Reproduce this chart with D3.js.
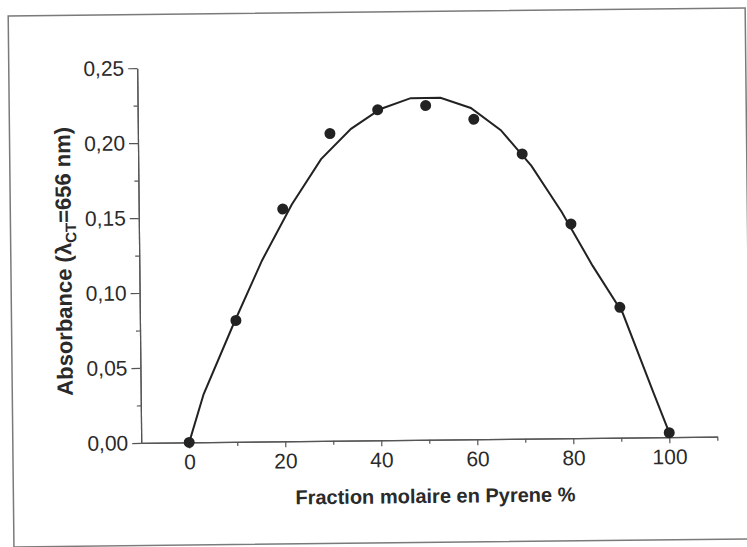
<!DOCTYPE html>
<html>
<head>
<meta charset="utf-8">
<script src="https://cdnjs.cloudflare.com/ajax/libs/d3/7.8.5/d3.min.js"></script>
<style>
    body { margin: 0; background: #fff; }
    .axis path, .axis line { stroke: #555; stroke-width: 1.2; }
    .axis text { font-family: "Liberation Sans", Arial, sans-serif; font-size: 21px; fill: #2a2a2a; }
    .title { font-family: "Liberation Sans", Arial, sans-serif; font-weight: bold; fill: #2a2a2a; }
</style>
</head>
<body>
<div id="chart"></div>
<script>
// measured points (molar fraction of pyrene %, absorbance)
var pyreneFraction = [0, 10, 20, 30, 40, 50, 60, 70, 80, 90, 100];
var absorbance = [0, 0.081, 0.155, 0.205, 0.2205, 0.223, 0.2135, 0.190, 0.143, 0.087, 0.003];

// fitted curve
var fitX = [0, 3.1, 9.4, 15.6, 21.9, 28.1, 34.4, 40.6, 46.9, 53.1, 59.4, 65.6, 71.9, 78.1, 84.4, 90.6, 96.9, 100];
var fitY = [0, 0.032, 0.078, 0.121, 0.158, 0.188, 0.208, 0.221, 0.228, 0.228, 0.221, 0.206, 0.182, 0.151, 0.115, 0.083, 0.029, 0.003];

// tick values
var xMajor = [0, 20, 40, 60, 80, 100];
var xMinor = [10, 30, 50, 70, 90, 110];
var yMajor = [0, 0.05, 0.10, 0.15, 0.20, 0.25];
var yMinor = [0.025, 0.075, 0.125, 0.175, 0.225];

var svgWidth = 747;
var svgHeight = 547;

var svg = d3.select("#chart")
    .append("svg")
    .attr("width", svgWidth)
    .attr("height", svgHeight);

// the scanned figure is slightly tilted
var page = svg.append("g")
    .attr("transform", "rotate(-0.62, 374, 273)");

// frame around the figure
page.append("rect")
    .attr("x", 11)
    .attr("y", 12)
    .attr("width", 737)
    .attr("height", 531)
    .attr("fill", "none")
    .attr("stroke", "#7a7a7a")
    .attr("stroke-width", 1.5);

var xScale = d3.scaleLinear()
    .domain([-10, 110])
    .range([139.4, 715.5]);

var yScale = d3.scaleLinear()
    .domain([0, 0.25])
    .range([440.4, 65.6]);

var fmt = function(d) { return d3.format(".2f")(d).replace(".", ","); };

// minor ticks first
page.append("g")
    .attr("class", "axis")
    .attr("transform", `translate(0, ${yScale(0)})`)
    .call(d3.axisBottom(xScale).tickValues(xMinor).tickSize(4).tickSizeOuter(0).tickFormat(""));

page.append("g")
    .attr("class", "axis")
    .attr("transform", `translate(${xScale(-10)}, 0)`)
    .call(d3.axisLeft(yScale).tickValues(yMinor).tickSize(4).tickSizeOuter(0).tickFormat(""));

// major axes
var xAxis = page.append("g")
    .attr("class", "axis")
    .attr("transform", `translate(0, ${yScale(0)})`)
    .call(d3.axisBottom(xScale).tickValues(xMajor).tickSize(6).tickPadding(6).tickSizeOuter(0));

var yAxis = page.append("g")
    .attr("class", "axis")
    .attr("transform", `translate(${xScale(-10)}, 0)`)
    .call(d3.axisLeft(yScale).tickValues(yMajor).tickSize(9).tickPadding(4).tickSizeOuter(0).tickFormat(fmt));

// fitted line
var fitData = fitX.map(function(x, i) { return { x: x, y: fitY[i] }; });

var line = d3.line()
    .x(d => xScale(d.x))
    .y(d => yScale(d.y));

page.append("path")
    .datum(fitData)
    .attr("d", line)
    .attr("fill", "none")
    .attr("stroke", "#222")
    .attr("stroke-width", 2);

// measured points
page.selectAll("circle.pt")
    .data(pyreneFraction)
    .enter()
    .append("circle")
    .attr("class", "pt")
    .attr("cx", d => xScale(d))
    .attr("cy", (d, i) => yScale(absorbance[i]))
    .attr("r", 5.5)
    .attr("fill", "#222");

// axis titles
page.append("text")
    .attr("class", "title")
    .attr("x", 433)
    .attr("y", 503.5)
    .attr("text-anchor", "middle")
    .style("font-size", "20px")
    .text("Fraction molaire en Pyrene %");

var yTitle = page.append("text")
    .attr("class", "title")
    .attr("transform", "translate(71.5, 258) rotate(-90)")
    .attr("text-anchor", "middle")
    .style("font-size", "22px");

yTitle.append("tspan").text("Absorbance (\u03bb");
yTitle.append("tspan").attr("dy", 5).style("font-size", "15px").text("CT");
yTitle.append("tspan").attr("dy", -5).text("=656 nm)");
</script>
</body>
</html>
